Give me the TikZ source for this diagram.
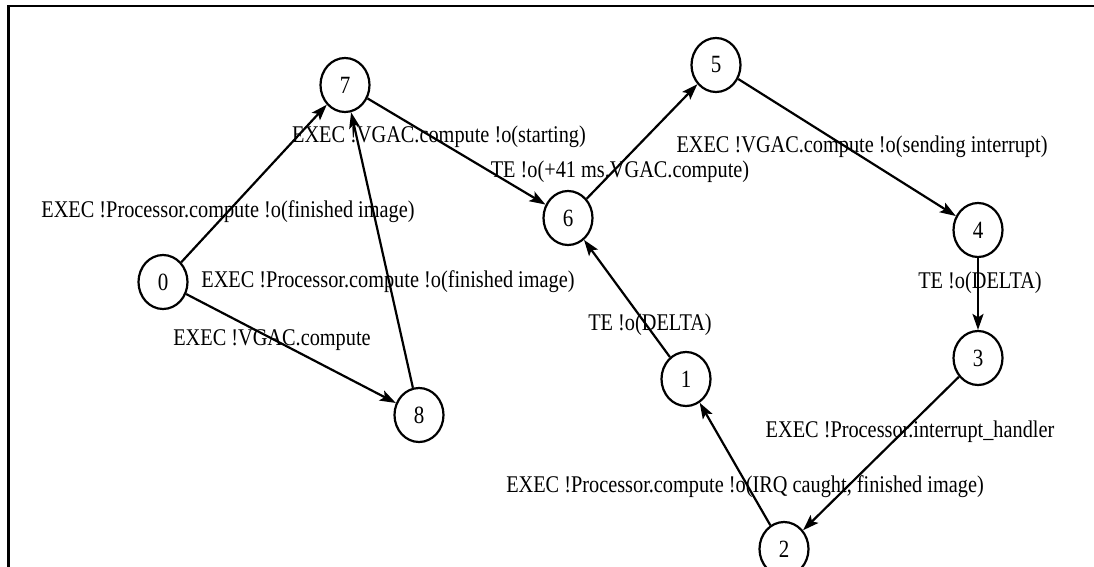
\documentclass[tikz,border=0pt]{standalone}
\usepackage{fontspec}
\setmainfont{Liberation Serif}
\usetikzlibrary{shapes.geometric,arrows.meta}
% slightly tall text, as in the state machine export
\newcommand{\tall}[1]{\scalebox{1}[1.18]{#1}}
\begin{document}
\begin{tikzpicture}[x=1pt,y=-1pt,
  state/.style={ellipse,draw,line width=2.2pt,minimum width=49pt,minimum height=54pt,inner sep=0pt,font=\fontsize{21}{24}\selectfont},
  trans/.style={line width=2.2pt,-{Stealth[length=16pt,width=11pt,inset=3.5pt]}},
  lbl/.style={inner sep=0pt,font=\fontsize{20.3}{24}\selectfont}]
\useasboundingbox (0,0) rectangle (1094,567);
% frame
\draw[line width=2.5pt] (8.7,567) -- (8.7,6.2) -- (1094,6.2);
% states
\node[state] (s7) at (345,85) {\tall{7}};
\node[state] (s5) at (716,65) {\tall{5}};
\node[state] (s0) at (163,282) {\tall{0}};
\node[state] (s6) at (568,218) {\tall{6}};
\node[state] (s4) at (978,230) {\tall{4}};
\node[state] (s3) at (978,358) {\tall{3}};
\node[state] (s1) at (686,379) {\tall{1}};
\node[state] (s8) at (419,415) {\tall{8}};
\node[state] (s2) at (784,549) {\tall{2}};
% transitions
\draw[trans] (s0) -- (s7);
\draw[trans] (s0) -- (s8);
\draw[trans] (s8) -- (s7);
\draw[trans] (s7) -- (s6);
\draw[trans] (s6) -- (s5);
\draw[trans] (s5) -- (s4);
\draw[trans] (s4) -- (s3);
\draw[trans] (s3) -- (s2);
\draw[trans] (s2) -- (s1);
\draw[trans] (s1) -- (s6);
% transition labels
\node[lbl] (l07) at (228,212) {\tall{EXEC !Processor.compute !o(finished image)}};
\node[lbl] (l08) at (272,340) {\tall{EXEC !VGAC.compute}};
\node[lbl] (l87) at (388,282) {\tall{EXEC !Processor.compute !o(finished image)}};
\node[lbl] (l76) at (439,137) {\tall{EXEC !VGAC.compute !o(starting)}};
\node[lbl] (l65) at (620,172) {\tall{TE !o(+41 ms.VGAC.compute)}};
\node[lbl] (l54) at (862,147) {\tall{EXEC !VGAC.compute !o(sending interrupt)}};
\node[lbl] (l43) at (980,283) {\tall{TE !o(DELTA)}};
\node[lbl] (l16) at (650,325) {\tall{TE !o(DELTA)}};
\node[lbl] (l32) at (910,432) {\tall{EXEC !Processor.interrupt\_handler}};
\node[lbl] (l21) at (745,487) {\tall{EXEC !Processor.compute !o(IRQ caught, finished image)}};
\end{tikzpicture}
\end{document}
